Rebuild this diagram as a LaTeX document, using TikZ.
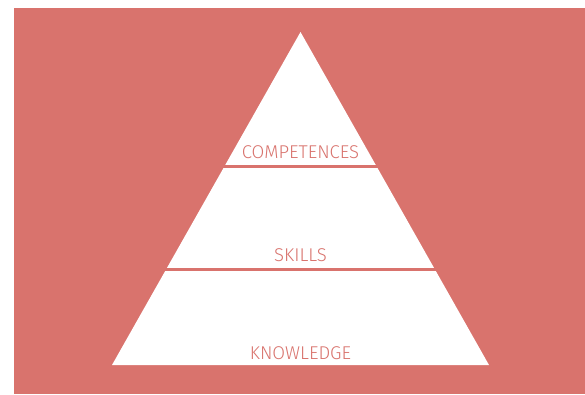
\documentclass[tikz,border=0pt]{standalone}
\usepackage{fontspec}
\setmainfont{Fira Sans Light}
\definecolor{pyr}{HTML}{D9736D}
\begin{document}
\begin{tikzpicture}[x=1pt,y=-1pt,
  lbl/.style={text=pyr,font=\fontsize{18.5}{20}\selectfont,inner sep=0pt,anchor=base},
  stripe/.style={draw=pyr,line width=3pt}]
\useasboundingbox (0,0) rectangle (585,394);
\fill[white] (0,0) rectangle (585,394);
\fill[pyr] (13.5,8) rectangle (585,394);
\fill[white] (300.5,32) -- (489,365) -- (112,365) -- cycle;
\draw[stripe] (150,166.5) -- (450,166.5);
\draw[stripe] (150,269.5) -- (450,269.5);
\node[lbl] (comp) at (300.5,158.5) {COMPETENCES};
\node[lbl] (skills) at (300.5,261.5) {SKILLS};
\node[lbl] (know) at (300.5,359) {KNOWLEDGE};
\end{tikzpicture}
\end{document}
